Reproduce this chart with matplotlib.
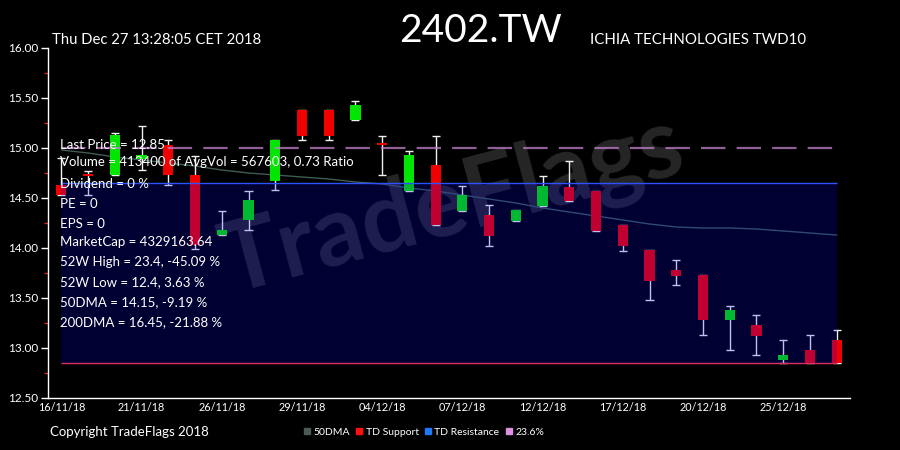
import matplotlib
matplotlib.use("Agg")
import matplotlib.pyplot as plt
from matplotlib.lines import Line2D
from matplotlib.patches import Rectangle

# ---------------- data ----------------
dates = ["16/11/18", "19/11/18", "20/11/18", "21/11/18", "22/11/18", "23/11/18",
         "26/11/18", "27/11/18", "28/11/18", "29/11/18", "30/11/18", "03/12/18",
         "04/12/18", "05/12/18", "06/12/18", "07/12/18", "10/12/18", "11/12/18",
         "12/12/18", "13/12/18", "14/12/18", "17/12/18", "18/12/18", "19/12/18",
         "20/12/18", "21/12/18", "24/12/18", "25/12/18", "26/12/18", "27/12/18"]
opens = [14.63, 14.74, 14.73, 14.89, 15.03, 14.73, 14.13, 14.28, 14.67, 15.38,
         15.38, 15.28, 15.05, 14.57, 14.83, 14.37, 14.33, 14.27, 14.42, 14.61,
         14.57, 14.23, 13.98, 13.78, 13.73, 13.28, 13.23, 12.88, 12.98, 13.08]
highs = [14.90, 14.77, 15.15, 15.22, 15.08, 14.92, 14.37, 14.57, 15.08, 15.38,
         15.38, 15.47, 15.12, 14.97, 15.12, 14.62, 14.43, 14.38, 14.72, 14.87,
         14.57, 14.23, 13.98, 13.88, 13.73, 13.42, 13.33, 13.08, 13.13, 13.18]
lows = [14.53, 14.53, 14.73, 14.78, 14.63, 13.99, 14.13, 14.18, 14.58, 15.08,
        15.08, 15.28, 14.73, 14.57, 14.23, 14.37, 14.02, 14.27, 14.42, 14.47,
        14.17, 13.97, 13.48, 13.63, 13.13, 12.98, 12.93, 12.85, 12.85, 12.85]
closes = [14.53, 14.72, 15.13, 14.93, 14.73, 14.03, 14.18, 14.48, 15.08, 15.12,
          15.12, 15.43, 15.03, 14.93, 14.23, 14.53, 14.12, 14.38, 14.62, 14.47,
          14.17, 14.02, 13.67, 13.72, 13.28, 13.38, 13.12, 12.93, 12.85, 12.85]
dma50 = [14.98, 14.95, 14.91, 14.88, 14.85, 14.82, 14.78, 14.75, 14.73, 14.71,
         14.69, 14.66, 14.64, 14.60, 14.57, 14.53, 14.49, 14.45, 14.40, 14.36,
         14.32, 14.28, 14.24, 14.21, 14.20, 14.20, 14.19, 14.17, 14.15, 14.13]
td_support = 12.85
td_resistance = 14.65
fib_236 = 15.00
yticks = [12.5, 13.0, 13.5, 14.0, 14.5, 15.0, 15.5, 16.0]
info_lines = ["Last Price = 12.85",
              "Volume = 413400 of AvgVol = 567603, 0.73 Ratio",
              "Dividend = 0 %",
              "PE = 0",
              "EPS = 0",
              "MarketCap = 4329163.64",
              "52W High = 23.4, -45.09 %",
              "52W Low = 12.4, 3.63 %",
              "50DMA = 14.15, -9.19 %",
              "200DMA = 16.45, -21.88 %"]
info_y = [145, 162, 184, 204, 224, 242, 262, 282, 302, 322]  # pixel rows

# ---------------- styling ----------------
BG = "black"
GREEN = "#00e600"
RED = "#f20000"
FONT = ["Lato", "DejaVu Sans"]
NARROW = ["Liberation Sans Narrow", "Lato", "DejaVu Sans"]

fig = plt.figure(figsize=(9, 4.5), dpi=100, facecolor=BG)
ax = fig.add_axes([48 / 900, 1 - 398 / 450, 802 / 900, 350 / 450], facecolor=BG)

n = len(dates)
xs = list(range(n))

# 50DMA
ax.plot(xs, dma50, color="#3d5c55", lw=1.0, zorder=2)

# candles
bw = 0.38
cw = 0.30
for i in xs:
    o, h, l, c = opens[i], highs[i], lows[i], closes[i]
    col = GREEN if c >= o else RED
    ax.vlines(i, l, h, color="#f0f0f0", lw=1.0, zorder=3)
    ax.hlines([l, h], i - cw / 2, i + cw / 2, color="#f0f0f0", lw=1.0, zorder=3)
    bot = min(o, c)
    hgt = max(abs(c - o), 0.015)
    ax.add_patch(Rectangle((i - bw / 2, bot), bw, hgt, facecolor=col,
                           edgecolor="none", zorder=4))

# 23.6% dashed line
ax.hlines(fib_236, 0, n - 1, color="#c080c8", lw=1.6, alpha=0.75,
          linestyles=(0, (11, 5)), zorder=5)
# TD resistance / support lines
ax.hlines(td_resistance, 0, n - 1, color="#3a66ff", lw=1.0, zorder=6)
ax.hlines(td_support, 0, n - 1, color="#e03060", lw=1.0, zorder=6)

# watermark
ax.text(0.505, 0.55, "TradeFlags", transform=ax.transAxes, fontsize=70,
        family=FONT, fontweight="bold", color="#262626", rotation=15,
        ha="center", va="center", zorder=1)

# info text
for txt, py in zip(info_lines, info_y):
    fig.text(60 / 900, 1 - py / 450, txt, color="white", fontsize=9.5,
             family=FONT, ha="left", va="center", zorder=7)

# translucent band between support and resistance (drawn on top)
band = Rectangle((0, td_support), n - 1, td_resistance - td_support,
                 facecolor="#0000ff", alpha=0.2, edgecolor="none", zorder=10)
ax.add_patch(band)

# axes
ax.set_xlim(-0.5, n - 0.5)
ax.set_ylim(12.5, 16.0)
ax.set_yticks(yticks)
ax.set_yticklabels([f"{v:.2f}" for v in yticks])
ax.set_yticks([v + 0.25 for v in yticks[:-1]], minor=True)
ax.tick_params(axis="y", which="major", colors="white", length=5, width=1,
               labelsize=8.5, pad=2)
ax.tick_params(axis="y", which="minor", colors="#dd2222", length=3, width=1)
ax.set_xticks(xs[::3])
ax.set_xticklabels(dates[::3], family=NARROW)
ax.tick_params(axis="x", colors="white", length=0, labelsize=7.8, pad=3)
for lab in ax.get_yticklabels():
    lab.set_family(FONT)
for s in ["top", "right"]:
    ax.spines[s].set_visible(False)
for s in ["left", "bottom"]:
    ax.spines[s].set_color("white")
    ax.spines[s].set_linewidth(1.0)

# header texts
fig.text(52 / 900, 1 - 40 / 450, "Thu Dec 27 13:28:05 CET 2018", color="white",
         fontsize=10.7, family=FONT, ha="left", va="center")
fig.text(399 / 900, 1 - 31 / 450, "2402.TW", color="white", fontsize=28,
         family=FONT, fontweight="normal", ha="left", va="center")
fig.text(590 / 900, 1 - 40 / 450, "ICHIA TECHNOLOGIES TWD10", color="white",
         fontsize=10.8, family=FONT, ha="left", va="center")
fig.text(50 / 900, 1 - 432 / 450, "Copyright TradeFlags 2018", color="white",
         fontsize=9.5, family=NARROW, ha="left", va="center")

# legend
handles = [Line2D([], [], ls="none", marker="s", ms=5, color=c, mec=c)
           for c in ["#4a5a58", "#ff1111", "#2277ff", "#e090e0"]]
labels = ["50DMA", "TD Support", "TD Resistance", "23.6%"]
leg = fig.legend(handles, labels, loc="center", bbox_to_anchor=(424 / 900, 1 - 432 / 450),
                 ncol=4, frameon=False, handlelength=0.6, handletextpad=0.3,
                 columnspacing=0.6, prop={"family": NARROW, "size": 7.5})
for t in leg.get_texts():
    t.set_color("white")

fig.savefig("out.png", dpi=100, facecolor=BG)
